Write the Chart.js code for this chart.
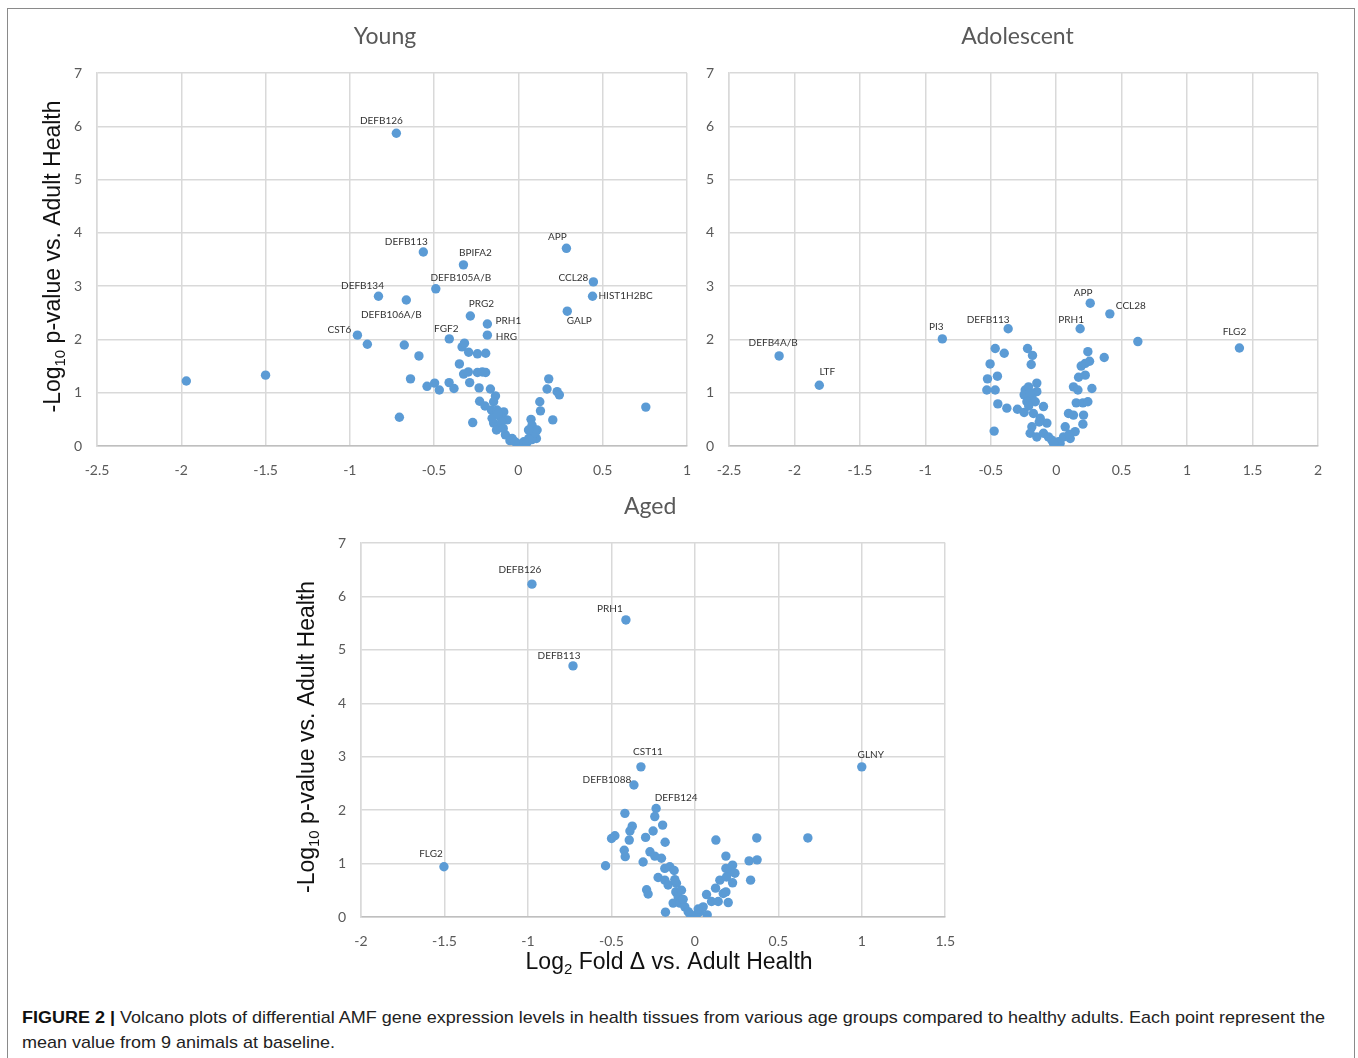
<!DOCTYPE html>
<html><head><meta charset="utf-8">
<script src="https://cdn.jsdelivr.net/npm/chart.js@4.4.1/dist/chart.umd.min.js"></script>
<style>
html,body{margin:0;padding:0;background:#fff;}
body{width:1358px;height:1058px;position:relative;overflow:hidden;}
#frame{position:absolute;left:7px;top:8px;width:1346px;height:1070px;border:1.5px solid #8a8a8a;}
.panel{position:absolute;}
#caption{position:absolute;left:22px;top:1005px;font-family:"Liberation Sans Narrow","Liberation Sans",Arial,sans-serif;font-size:17px;line-height:25px;color:#222;white-space:nowrap;transform-origin:0 0;}
#caption b{font-weight:bold;color:#111;}
</style></head><body>
<div id="frame"></div>
<div class="panel" style="left:0;top:0"><canvas id="young" width="707" height="490"></canvas></div>
<div class="panel" style="left:690px;top:0"><canvas id="adol" width="648" height="490"></canvas></div>
<div class="panel" style="left:280px;top:480px"><canvas id="aged" width="691" height="500"></canvas></div>
<div id="caption"><span id="cap1"><b>FIGURE 2 |</b> Volcano plots of differential AMF gene expression levels in health tissues from various age groups compared to healthy adults. Each point represent the</span><br><span id="cap2">mean value from 9 animals at baseline.</span></div>
<script>
// ---------------- DATA ----------------
const panelTitles = ['Young', 'Adolescent', 'Aged'];
const yTitleParts = ['-Log', '10', ' p-value vs. Adult Health'];
const xTitleParts = ['Log', '2', ' Fold \u0394 vs. Adult Health'];

// Young (labelled genes first)
const youngGenes = ['DEFB126','DEFB113','BPIFA2','DEFB105A/B','DEFB134','DEFB106A/B','CST6','FGF2','PRG2','PRH1','HRG','APP','CCL28','HIST1H2BC','GALP'];
const youngX = [-0.724,-0.564,-0.326,-0.49,-0.83,-0.665,-0.955,-0.41,-0.285,-0.184,-0.184,0.285,0.445,0.44,0.29,
  -0.896,-1.97,-1.50,0.756,-0.706,-0.677,-0.59,-0.64,-0.542,-0.497,-0.469,-0.411,-0.382,-0.35,-0.334,-0.32,-0.295,-0.243,-0.194,
  -0.325,-0.297,-0.289,-0.243,-0.214,-0.194,-0.233,-0.166,-0.271,-0.23,-0.198,-0.136,-0.147,-0.16,-0.127,-0.087,-0.067,-0.147,
  -0.117,-0.156,-0.107,-0.077,-0.037,-0.008,0.012,0.032,0.061,0.091,0.075,0.081,0.111,0.107,0.127,0.131,0.17,0.18,0.23,0.243,0.204,
  -0.12,-0.1,-0.13,-0.05,0.02,0.05,0.08,0.1,-0.02,0.06,-0.09];
const youngY = [5.87,3.64,3.40,2.95,2.81,2.74,2.08,2.01,2.44,2.29,2.08,3.71,3.08,2.81,2.53,
  1.91,1.22,1.33,0.73,0.54,1.895,1.69,1.26,1.12,1.18,1.05,1.19,1.08,1.54,1.86,1.93,1.76,1.73,1.74,
  1.35,1.39,1.19,1.38,1.39,1.38,1.09,1.07,0.44,0.84,0.75,0.94,0.83,0.675,0.675,0.64,0.49,0.43,
  0.375,0.52,0.55,0.21,0.14,0.05,0.0,0.08,0.14,0.21,0.50,0.39,0.30,0.14,0.83,0.66,1.07,1.26,1.02,0.96,0.49,
  0.6,0.45,0.3,0.1,0.03,0.06,0.12,0.25,0.08,0.3,0.33];

// Adolescent
const adolGenes = ['DEFB4A/B','LTF','PI3','DEFB113','APP','CCL28','PRH1','FLG2'];
const adolX = [-2.117,-1.81,-0.87,-0.367,0.26,0.41,0.183,1.40,
  0.624,-0.466,-0.397,-0.505,-0.525,-0.449,-0.53,-0.466,-0.446,-0.377,-0.474,-0.296,-0.245,-0.219,-0.181,-0.191,
  -0.237,-0.211,-0.148,-0.245,-0.186,-0.148,-0.224,-0.16,-0.097,-0.174,-0.122,-0.186,-0.071,-0.199,-0.148,-0.097,
  -0.059,-0.033,-0.008,0.018,0.056,0.069,0.107,0.094,0.132,0.145,0.209,0.204,0.153,0.204,0.242,0.132,0.166,0.273,
  0.171,0.222,0.191,0.222,0.255,0.242,0.367,-0.2,-0.21,-0.13,0.03,0.1,-0.02];
const adolY = [1.69,1.14,2.01,2.20,2.68,2.48,2.20,1.84,
  1.96,1.83,1.74,1.54,1.26,1.31,1.05,1.05,0.79,0.71,0.28,0.69,0.63,1.83,1.70,1.53,
  1.05,1.11,1.18,0.96,0.93,1.02,0.83,0.83,0.74,0.61,0.52,0.36,0.43,0.24,0.17,0.24,
  0.17,0.11,0.02,0.08,0.17,0.36,0.14,0.61,0.58,0.27,0.58,0.41,0.81,0.81,0.83,1.11,1.05,1.08,
  1.29,1.33,1.50,1.55,1.59,1.77,1.66,1.0,0.75,0.45,0.05,0.22,0.05];

// Aged
const agedGenes = ['DEFB126','PRH1','DEFB113','CST11','DEFB1088','DEFB124','GLNY','FLG2'];
const agedX = [-0.976,-0.413,-0.73,-0.323,-0.365,-0.232,1.0,-1.503,
  0.677,-0.24,-0.419,-0.375,-0.389,-0.499,-0.479,-0.393,-0.295,-0.25,-0.193,-0.178,-0.423,-0.417,-0.535,-0.269,
  -0.24,-0.2,-0.31,-0.18,-0.15,-0.124,-0.22,-0.18,-0.16,-0.289,-0.28,-0.11,-0.114,-0.1,-0.13,-0.176,-0.09,-0.06,
  -0.04,-0.01,0.01,0.03,0.05,0.074,0.07,0.1,0.124,0.14,0.126,0.15,0.17,0.186,0.2,0.186,0.186,0.21,0.226,0.24,
  0.226,0.19,0.325,0.373,0.334,0.371,-0.08,-0.12,-0.07,0.02,-0.03];
const agedY = [6.23,5.56,4.70,2.81,2.47,2.03,2.81,0.94,
  1.48,1.88,1.94,1.70,1.61,1.47,1.52,1.44,1.49,1.61,1.72,1.40,1.25,1.13,0.96,1.22,
  1.14,1.10,1.03,0.91,0.94,0.87,0.74,0.69,0.60,0.51,0.43,0.63,0.47,0.38,0.26,0.09,0.26,0.19,
  0.10,0.01,0.04,0.10,0.19,0.04,0.42,0.29,0.54,0.29,1.44,0.69,0.44,0.47,0.27,1.14,0.91,0.85,0.97,0.82,
  0.64,0.75,1.05,1.07,0.69,1.48,0.5,0.7,0.33,0.15,0.06];

// ---------------- STYLE ----------------
const youngLabelOffsets = {'DEFB126':[-15,-12],'DEFB113':[-17,-10],'BPIFA2':[12,-12],'DEFB105A/B':[25,-11],'DEFB134':[-16,-10],
  'DEFB106A/B':[-15,15],'CST6':[-18,-5],'FGF2':[-3,-10],'PRG2':[11,-12],'PRH1':[21,-3],'HRG':[19,2],'APP':[-9,-12],
  'CCL28':[-20,-4],'HIST1H2BC':[33,0],'GALP':[12,10]};
const adolLabelOffsets = {'DEFB4A/B':[-6,-13],'LTF':[8,-13],'PI3':[-6,-12],'DEFB113':[-20,-9],'APP':[-7,-10],
  'CCL28':[21,-8],'PRH1':[-9,-9],'FLG2':[-5,-16]};
const agedLabelOffsets = {'DEFB126':[-12,-14],'PRH1':[-16,-11],'DEFB113':[-14,-10],'CST11':[7,-15],'DEFB1088':[-27,-5],
  'DEFB124':[20,-11],'GLNY':[9,-12],'FLG2':[-13,-13]};

const BLUE = '#5b9bd5';
const GRID = '#d9d9d9';
const TICK = '#595959';
const AXFONT = '23px "Liberation Sans", Arial';
const AXSUB = '15px "Liberation Sans", Arial';

function drawParts(ctx, parts, x, y, big, small) {
  ctx.font = big; const w0 = ctx.measureText(parts[0]).width;
  ctx.font = small; const w1 = ctx.measureText(parts[1]).width;
  ctx.font = big; const w2 = ctx.measureText(parts[2]).width;
  let cx = x - (w0 + w1 + w2) / 2;
  ctx.textAlign = 'left'; ctx.textBaseline = 'alphabetic';
  ctx.font = big; ctx.fillText(parts[0], cx, y); cx += w0;
  ctx.font = small; ctx.fillText(parts[1], cx, y + 5); cx += w1;
  ctx.font = big; ctx.fillText(parts[2], cx, y);
}

const textPlugin = {
  id: 'volcanoText',
  afterDatasetsDraw(chart, args, o) {
    const ctx = chart.ctx, meta = chart.getDatasetMeta(0), ca = chart.chartArea;
    ctx.save();
    // panel title
    ctx.fillStyle = TICK;
    ctx.font = '23px Lato';
    ctx.textAlign = 'center'; ctx.textBaseline = 'middle';
    ctx.fillText(o.title, (ca.left + ca.right) / 2 + o.titleDx, ca.top - o.titleDy);
    // point labels
    ctx.fillStyle = '#333';
    ctx.font = '10px Lato';
    o.names.forEach((n, i) => {
      const el = meta.data[i];
      const off = o.offsets[n] || [0, -12];
      ctx.fillText(n, el.x + off[0], el.y + off[1]);
    });
    ctx.fillStyle = '#111';
    if (o.yTitle) {
      ctx.save();
      ctx.translate(ca.left - o.yTitleDx, (ca.top + ca.bottom) / 2 + o.yTitleDy);
      ctx.rotate(-Math.PI / 2);
      drawParts(ctx, yTitleParts, 0, 0, AXFONT, AXSUB);
      ctx.restore();
    }
    if (o.xTitle) {
      drawParts(ctx, xTitleParts, (ca.left + ca.right) / 2 + o.xTitleDx, ca.bottom + 52, AXFONT, AXSUB);
    }
    ctx.restore();
  }
};

function makeChart(id, title, xs, ys, names, offsets, xMin, xMax, yWidth, xHeight, pad, extra) {
  const pts = xs.map((x, i) => ({x: x, y: ys[i]}));
  return new Chart(document.getElementById(id), {
    type: 'scatter',
    data: {datasets: [{data: pts, backgroundColor: BLUE, borderWidth: 0, pointRadius: 4.7, pointHoverRadius: 4.7}]},
    plugins: [textPlugin],
    options: {
      responsive: false, animation: false,
      layout: {padding: pad},
      plugins: {
        legend: {display: false}, tooltip: {enabled: false}, title: {display: false},
        volcanoText: Object.assign({title: title, names: names, offsets: offsets}, extra)
      },
      scales: {
        x: {type: 'linear', min: xMin, max: xMax,
          ticks: {stepSize: 0.5, color: TICK, font: {family: 'Lato', size: 14}, padding: 16, maxRotation: 0, autoSkip: false, callback: v => String(v)},
          grid: {color: GRID, lineWidth: 1.5, drawTicks: false},
          border: {color: '#bfbfbf', width: 1.5},
          afterFit: s => { s.height = xHeight; }},
        y: {type: 'linear', min: 0, max: 7,
          ticks: {stepSize: 1, color: TICK, font: {family: 'Lato', size: 14}, padding: 15, callback: v => String(v)},
          grid: {color: GRID, lineWidth: 1.5, drawTicks: false},
          border: {color: GRID, width: 1.5},
          afterFit: s => { s.width = yWidth; }}
      }
    }
  });
}

function build() {
  makeChart('young', panelTitles[0], youngX, youngY, youngGenes, youngLabelOffsets, -2.5, 1, 97, 44,
    {left: 0, right: 8, top: 73, bottom: 0},
    {titleDx: -7, titleDy: 36, yTitle: true, yTitleDx: 37, yTitleDy: -3});
  makeChart('adol', panelTitles[1], adolX, adolY, adolGenes, adolLabelOffsets, -2.5, 2, 39, 44,
    {left: 0, right: 5, top: 73, bottom: 0},
    {titleDx: -6, titleDy: 36});
  makeChart('aged', panelTitles[2], agedX, agedY, agedGenes, agedLabelOffsets, -2, 1.5, 81, 63,
    {left: 0, right: 7, top: 63, bottom: 0},
    {titleDx: -3, titleDy: 36, yTitle: true, yTitleDx: 47, yTitleDy: 7, xTitle: true, xTitleDx: 16});
  const cap = document.getElementById('caption');
  const w = document.getElementById('cap1').getBoundingClientRect().width;
  cap.style.transform = 'scaleX(' + (1303 / w) + ')';
}
if (document.fonts && document.fonts.load) {
  Promise.all([document.fonts.load('14px Lato'), document.fonts.load('22px "Liberation Sans"'), document.fonts.load('17px "Liberation Sans Narrow"')]).then(build, build);
} else build();
</script>
</body></html>
